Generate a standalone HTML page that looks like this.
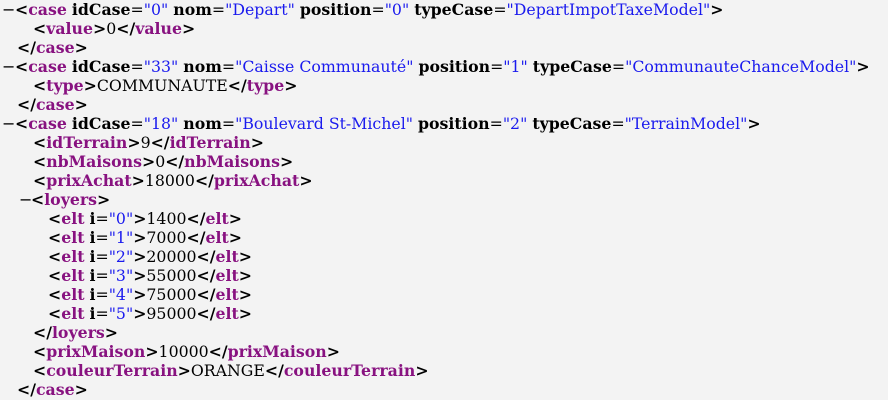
<!DOCTYPE html>
<html><head><meta charset="utf-8"><style>
html,body{margin:0;padding:0;background:#f3f3f3;width:888px;height:400px;overflow:hidden}
.l{position:absolute;white-space:pre;font-family:"DejaVu Serif","Liberation Serif",serif;font-size:15.75px;line-height:19px;color:#000}
.t{color:#881280;font-weight:bold}
.p{font-weight:bold}
.a{font-weight:bold}
.v{color:#1a1aee}
.m{position:absolute;font-family:"DejaVu Sans",sans-serif;font-size:16px;line-height:19px}
</style></head><body>
<div class="m" style="left:2px;top:0px">−</div>
<div class="l" style="left:15px;top:0px"><span class="p">&lt;</span><span class="t">case</span> <span class="a">idCase</span>=<span class="v">"0"</span> <span class="a">nom</span>=<span class="v">"Depart"</span> <span class="a">position</span>=<span class="v">"0"</span> <span class="a">typeCase</span>=<span class="v">"DepartImpotTaxeModel"</span><span class="p">&gt;</span></div>
<div class="l" style="left:33px;top:19px"><span class="p">&lt;</span><span class="t">value</span><span class="p">&gt;</span>0<span class="p">&lt;/</span><span class="t">value</span><span class="p">&gt;</span></div>
<div class="l" style="left:17px;top:38px"><span class="p">&lt;/</span><span class="t">case</span><span class="p">&gt;</span></div>
<div class="m" style="left:2px;top:57px">−</div>
<div class="l" style="left:15px;top:57px"><span class="p">&lt;</span><span class="t">case</span> <span class="a">idCase</span>=<span class="v">"33"</span> <span class="a">nom</span>=<span class="v">"Caisse Communauté"</span> <span class="a">position</span>=<span class="v">"1"</span> <span class="a">typeCase</span>=<span class="v">"CommunauteChanceModel"</span><span class="p">&gt;</span></div>
<div class="l" style="left:33px;top:76px"><span class="p">&lt;</span><span class="t">type</span><span class="p">&gt;</span>COMMUNAUTE<span class="p">&lt;/</span><span class="t">type</span><span class="p">&gt;</span></div>
<div class="l" style="left:17px;top:95px"><span class="p">&lt;/</span><span class="t">case</span><span class="p">&gt;</span></div>
<div class="m" style="left:2px;top:114px">−</div>
<div class="l" style="left:15px;top:114px"><span class="p">&lt;</span><span class="t">case</span> <span class="a">idCase</span>=<span class="v">"18"</span> <span class="a">nom</span>=<span class="v">"Boulevard St-Michel"</span> <span class="a">position</span>=<span class="v">"2"</span> <span class="a">typeCase</span>=<span class="v">"TerrainModel"</span><span class="p">&gt;</span></div>
<div class="l" style="left:33px;top:133px"><span class="p">&lt;</span><span class="t">idTerrain</span><span class="p">&gt;</span>9<span class="p">&lt;/</span><span class="t">idTerrain</span><span class="p">&gt;</span></div>
<div class="l" style="left:33px;top:152px"><span class="p">&lt;</span><span class="t">nbMaisons</span><span class="p">&gt;</span>0<span class="p">&lt;/</span><span class="t">nbMaisons</span><span class="p">&gt;</span></div>
<div class="l" style="left:33px;top:171px"><span class="p">&lt;</span><span class="t">prixAchat</span><span class="p">&gt;</span>18000<span class="p">&lt;/</span><span class="t">prixAchat</span><span class="p">&gt;</span></div>
<div class="m" style="left:19px;top:190px">−</div>
<div class="l" style="left:31px;top:190px"><span class="p">&lt;</span><span class="t">loyers</span><span class="p">&gt;</span></div>
<div class="l" style="left:48px;top:209px"><span class="p">&lt;</span><span class="t">elt</span> <span class="a">i</span>=<span class="v">"0"</span><span class="p">&gt;</span>1400<span class="p">&lt;/</span><span class="t">elt</span><span class="p">&gt;</span></div>
<div class="l" style="left:48px;top:228px"><span class="p">&lt;</span><span class="t">elt</span> <span class="a">i</span>=<span class="v">"1"</span><span class="p">&gt;</span>7000<span class="p">&lt;/</span><span class="t">elt</span><span class="p">&gt;</span></div>
<div class="l" style="left:48px;top:247px"><span class="p">&lt;</span><span class="t">elt</span> <span class="a">i</span>=<span class="v">"2"</span><span class="p">&gt;</span>20000<span class="p">&lt;/</span><span class="t">elt</span><span class="p">&gt;</span></div>
<div class="l" style="left:48px;top:266px"><span class="p">&lt;</span><span class="t">elt</span> <span class="a">i</span>=<span class="v">"3"</span><span class="p">&gt;</span>55000<span class="p">&lt;/</span><span class="t">elt</span><span class="p">&gt;</span></div>
<div class="l" style="left:48px;top:285px"><span class="p">&lt;</span><span class="t">elt</span> <span class="a">i</span>=<span class="v">"4"</span><span class="p">&gt;</span>75000<span class="p">&lt;/</span><span class="t">elt</span><span class="p">&gt;</span></div>
<div class="l" style="left:48px;top:304px"><span class="p">&lt;</span><span class="t">elt</span> <span class="a">i</span>=<span class="v">"5"</span><span class="p">&gt;</span>95000<span class="p">&lt;/</span><span class="t">elt</span><span class="p">&gt;</span></div>
<div class="l" style="left:33px;top:323px"><span class="p">&lt;/</span><span class="t">loyers</span><span class="p">&gt;</span></div>
<div class="l" style="left:33px;top:342px"><span class="p">&lt;</span><span class="t">prixMaison</span><span class="p">&gt;</span>10000<span class="p">&lt;/</span><span class="t">prixMaison</span><span class="p">&gt;</span></div>
<div class="l" style="left:33px;top:361px"><span class="p">&lt;</span><span class="t">couleurTerrain</span><span class="p">&gt;</span>ORANGE<span class="p">&lt;/</span><span class="t">couleurTerrain</span><span class="p">&gt;</span></div>
<div class="l" style="left:17px;top:380px"><span class="p">&lt;/</span><span class="t">case</span><span class="p">&gt;</span></div>
</body></html>
